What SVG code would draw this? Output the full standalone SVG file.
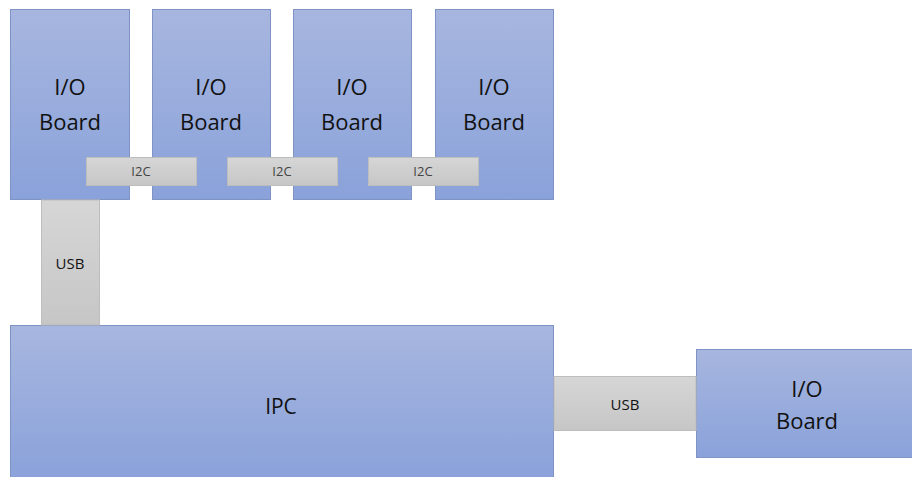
<svg xmlns="http://www.w3.org/2000/svg" width="912" height="477" viewBox="0 0 912 477">
<defs>
<linearGradient id="blue" x1="0" y1="0" x2="0" y2="1">
<stop offset="0" stop-color="#a7b6df"/>
<stop offset="1" stop-color="#8aa2da"/>
</linearGradient>
<linearGradient id="grey" x1="0" y1="0" x2="0" y2="1">
<stop offset="0" stop-color="#d6d6d6"/>
<stop offset="1" stop-color="#c6c6c6"/>
</linearGradient>
<style>
.node{fill:url(#blue);stroke:#7f93c4;stroke-width:1}
.link{fill:url(#grey);stroke:#bdbdbd;stroke-width:1}
.t{font-family:"Open Sans","Noto Sans",sans-serif;fill:#111;text-anchor:middle}
.big{font-size:22px}
.small{font-size:13px;fill:#444}
.med{font-size:15px}
</style>
</defs>
<rect width="912" height="477" fill="#ffffff"/>
<g id="board1"><rect class="node" x="10.5" y="9.5" width="119" height="190"/><text class="t big" x="70" y="95">I/O</text><text class="t big" x="70" y="130">Board</text></g>
<g id="board2"><rect class="node" x="152.5" y="9.5" width="118" height="190"/><text class="t big" x="211" y="95">I/O</text><text class="t big" x="211" y="130">Board</text></g>
<g id="board3"><rect class="node" x="293.5" y="9.5" width="118" height="190"/><text class="t big" x="352" y="95">I/O</text><text class="t big" x="352" y="130">Board</text></g>
<g id="board4"><rect class="node" x="435.5" y="9.5" width="118" height="190"/><text class="t big" x="494" y="95">I/O</text><text class="t big" x="494" y="130">Board</text></g>
<g id="ipc"><rect class="node" x="10.5" y="325.5" width="543" height="155"/><text class="t" style="font-size:21px" x="281" y="414">IPC</text></g>
<g id="board5"><rect class="node" x="696.5" y="349.5" width="220" height="108"/><text class="t big" x="807" y="397">I/O</text><text class="t big" x="807" y="429">Board</text></g>
<g id="connectors">
<rect class="link" x="86.5" y="157.5" width="110" height="28"/><text class="t small" x="141" y="176">I2C</text>
<rect class="link" x="227.5" y="157.5" width="110" height="28"/><text class="t small" x="282" y="176">I2C</text>
<rect class="link" x="368.5" y="157.5" width="110" height="28"/><text class="t small" x="423" y="176">I2C</text>
<rect class="link" x="41.5" y="200" width="58" height="125"/><text class="t med" x="70" y="269">USB</text>
<rect class="link" x="554" y="376.5" width="142" height="54"/><text class="t med" x="625" y="410">USB</text>
</g>
</svg>
